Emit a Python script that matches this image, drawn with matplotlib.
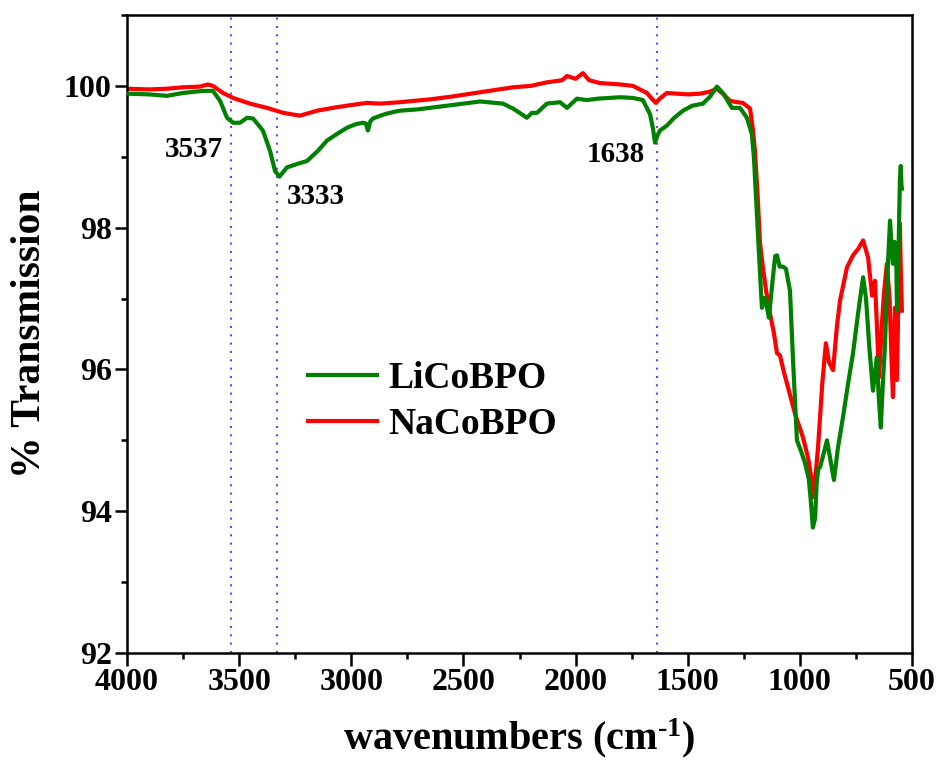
import matplotlib
matplotlib.use("Agg")
import matplotlib.pyplot as plt
from matplotlib.ticker import MultipleLocator

# ---------------- data ----------------
li_x = [4000, 3900, 3822, 3750, 3661, 3617, 3585, 3554, 3527, 3496, 3465, 3438,
        3394, 3362, 3340, 3320, 3300, 3287, 3240, 3198, 3150, 3108, 3060, 3019,
        2980, 2948, 2935, 2926, 2915, 2903, 2870, 2841, 2800, 2783, 2700, 2649,
        2550, 2426, 2324, 2279, 2240, 2217, 2195, 2172, 2128, 2070, 2038, 1994,
        1950, 1900, 1800, 1744, 1700, 1668, 1655, 1646, 1635, 1624, 1593, 1560,
        1521, 1480, 1432, 1400, 1370, 1343, 1320, 1303, 1267, 1236, 1214, 1205,
        1195, 1185, 1175, 1169, 1160, 1156, 1145, 1138, 1120, 1110, 1102, 1090,
        1075, 1062, 1044, 1030, 1013, 995, 977, 960, 950, 942, 932, 925, 918,
        910, 895, 879, 865, 848, 830, 808, 785, 763, 740, 718, 705, 690, 674,
        665, 657, 648, 639, 630, 621, 610, 598, 590, 585, 578, 571, 567, 562,
        558, 554, 550, 547, 545]
li_y = [99.89, 99.88, 99.86, 99.90, 99.93, 99.93, 99.79, 99.55, 99.48, 99.48, 99.55, 99.54,
        99.37, 99.08, 98.80, 98.72, 98.80, 98.85, 98.90, 98.94, 99.08, 99.23, 99.33, 99.41,
        99.46, 99.48, 99.47, 99.37, 99.50, 99.54, 99.58, 99.61, 99.64, 99.65, 99.67, 99.69,
        99.73, 99.78, 99.75, 99.68, 99.60, 99.55, 99.62, 99.62, 99.75, 99.77, 99.69, 99.82,
        99.80, 99.82, 99.84, 99.83, 99.80, 99.60, 99.40, 99.20, 99.30, 99.37, 99.44, 99.55,
        99.65, 99.72, 99.75, 99.85, 99.99, 99.90, 99.78, 99.69, 99.69, 99.55, 99.32, 99.00,
        98.40, 97.80, 97.20, 96.87, 97.00, 97.01, 96.85, 96.73, 97.30, 97.60, 97.61, 97.45,
        97.45, 97.42, 97.11, 96.10, 95.00, 94.85, 94.68, 94.45, 94.10, 93.77, 93.90, 94.40, 94.60,
        94.62, 94.80, 95.00, 94.75, 94.44, 94.90, 95.32, 95.80, 96.23, 96.80, 97.30, 97.00, 96.30, 95.70,
        95.95, 96.17, 95.60, 95.18, 95.80, 96.31, 97.30, 98.10, 97.70, 97.49, 97.80, 97.77, 96.83, 97.35,
        98.00, 98.66, 98.87, 98.60, 98.55]

na_x = [4000, 3900, 3822, 3750, 3675, 3640, 3617, 3572, 3527, 3452, 3376, 3304,
        3229, 3153, 3082, 3000, 2930, 2872, 2783, 2649, 2550, 2426, 2279, 2200,
        2128, 2060, 2038, 2000, 1967, 1940, 1891, 1800, 1744, 1682, 1660, 1642,
        1625, 1593, 1500, 1445, 1400, 1370, 1340, 1312, 1280, 1254, 1222, 1210,
        1200, 1187, 1178, 1165, 1150, 1133, 1115, 1102, 1089, 1070, 1053, 1022,
        986, 964, 950, 942, 930, 919, 900, 884, 870, 852, 835, 821, 790, 763,
        740, 718, 696, 678, 665, 655, 647, 635, 625, 612, 600, 592, 585, 576,
        567, 562, 554, 550, 545]
na_y = [99.96, 99.95, 99.96, 99.98, 99.99, 100.02, 100.00, 99.90, 99.83, 99.75, 99.69, 99.62,
        99.58, 99.65, 99.69, 99.73, 99.76, 99.75, 99.77, 99.81, 99.85, 99.91, 99.98, 100.00,
        100.05, 100.08, 100.14, 100.10, 100.18, 100.08, 100.04, 100.02, 100.00, 99.90, 99.82, 99.76,
        99.82, 99.90, 99.88, 99.89, 99.92, 99.96, 99.88, 99.79, 99.77, 99.76, 99.68, 99.40,
        99.08, 98.38, 97.80, 97.44, 97.10, 96.79, 96.50, 96.23, 96.20, 95.95, 95.75, 95.38,
        95.04, 94.76, 94.50, 94.20, 94.50, 94.90, 95.80, 96.37, 96.10, 95.99, 96.60, 96.97, 97.44, 97.61,
        97.70, 97.82, 97.58, 97.04, 97.25, 96.50, 95.89, 96.60, 97.07, 97.49, 97.00, 96.20, 95.61, 96.87,
        95.85, 96.79, 98.06, 97.40, 96.83]

series_names = ["LiCoBPO", "NaCoBPO"]
peak_positions = [3537, 3333, 1638]
peak_labels = ["3537", "3333", "1638"]
peak_label_x = [3701, 3157, 1820]
peak_label_y = [98.99, 98.34, 98.92]

x_ticks = [4000, 3500, 3000, 2500, 2000, 1500, 1000, 500]
y_ticks = [92, 94, 96, 98, 100]

# ---------------- figure ----------------
plt.rcParams['font.family'] = ['Liberation Serif', 'DejaVu Serif']
plt.rcParams['font.weight'] = 'bold'
plt.rcParams['mathtext.fontset'] = 'custom'
plt.rcParams['mathtext.rm'] = 'Liberation Serif:bold'
plt.rcParams['mathtext.it'] = 'Liberation Serif:bold'
plt.rcParams['mathtext.bf'] = 'Liberation Serif:bold'

fig = plt.figure(figsize=(9.42, 7.65), dpi=100)
ax = fig.add_axes([127/942, 1 - 653/765, (912-127)/942, (653-15)/765])

for xp in peak_positions:
    ax.axvline(xp, color='#7a3df0', lw=1.5, ls=(0, (1, 3)), zorder=1)

ax.plot(na_x, na_y, color='#ff0000', lw=3.0, label=series_names[1], zorder=2,
        solid_joinstyle='round')
ax.plot(li_x, li_y, color='#008000', lw=3.0, label=series_names[0], zorder=3,
        solid_joinstyle='round')

for lx, ly, txt in zip(peak_label_x, peak_label_y, peak_labels):
    ax.text(lx, ly, txt, ha='center', va='baseline', fontsize=21, fontweight='bold')

ax.set_xlim(4000, 500)
ax.set_ylim(92, 101)
ax.set_xticks(x_ticks)
ax.set_yticks(y_ticks)
ax.xaxis.set_minor_locator(MultipleLocator(250))
ax.yaxis.set_minor_locator(MultipleLocator(1))
ax.tick_params(which='major', direction='out', length=9, width=1.8, labelsize=23, pad=2)
ax.tick_params(which='minor', direction='out', length=4.5, width=1.8)
ax.tick_params(top=False, right=False)
for lab in ax.get_xticklabels() + ax.get_yticklabels():
    lab.set_fontweight('bold')
for sp in ax.spines.values():
    sp.set_linewidth(1.8)

ax.set_xlabel(r'wavenumbers (cm$^{\text{-}1}$)', fontsize=29, fontweight='bold', labelpad=14)
ax.set_ylabel('% Transmission', fontsize=30, fontweight='bold', labelpad=11)

handles, labels = ax.get_legend_handles_labels()
order = [labels.index(n) for n in series_names]
leg = ax.legend([handles[i] for i in order], [labels[i] for i in order],
                loc='center left', bbox_to_anchor=(0.2306, 0.394), frameon=False,
                handlelength=1.85, handletextpad=0.3, labelspacing=0.3,
                borderpad=0, borderaxespad=0, prop={'weight': 'bold', 'size': 27})

fig.savefig('out.png', dpi=100)
